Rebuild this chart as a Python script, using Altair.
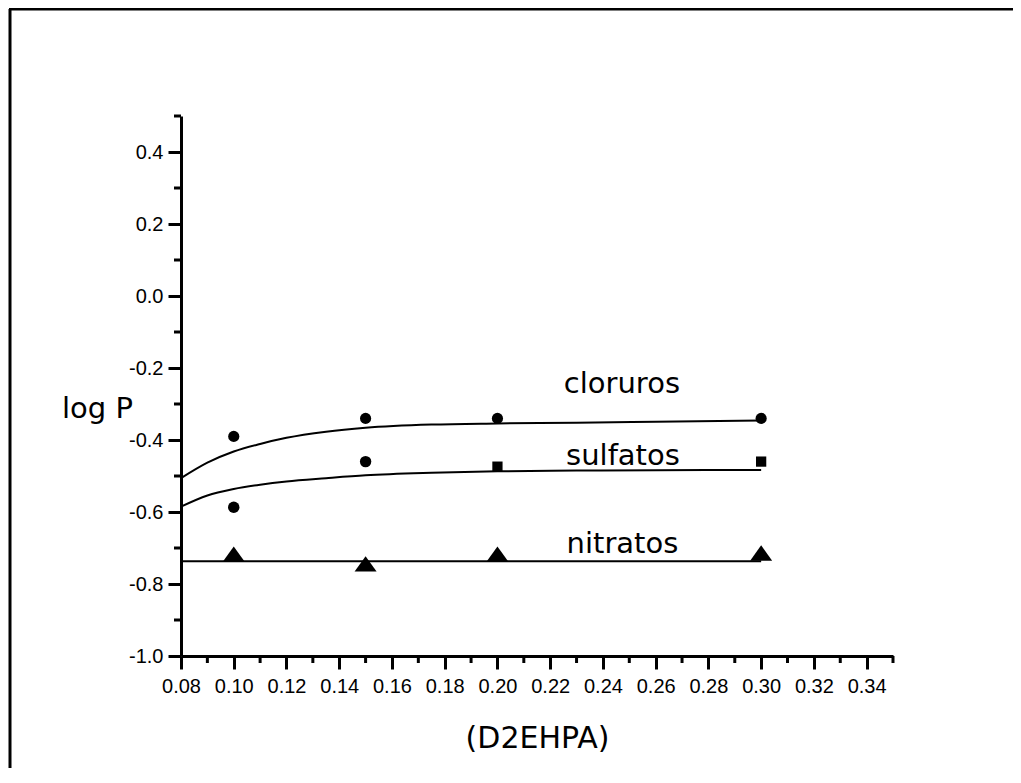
import altair as alt
import pandas as pd

# ---- data ----
# fitted curves
clor_curve_x = [0.08, 0.09, 0.10, 0.11, 0.12, 0.135, 0.15, 0.175, 0.20, 0.23, 0.26, 0.30]
clor_curve_y = [-0.506, -0.463, -0.432, -0.411, -0.394, -0.377, -0.366, -0.357, -0.354, -0.352, -0.349, -0.346]
sulf_curve_x = [0.08, 0.09, 0.10, 0.11, 0.12, 0.135, 0.15, 0.175, 0.20, 0.23, 0.26, 0.30]
sulf_curve_y = [-0.585, -0.554, -0.536, -0.524, -0.515, -0.506, -0.498, -0.491, -0.487, -0.485, -0.484, -0.483]
nitr_curve_x = [0.08, 0.30]
nitr_curve_y = [-0.737, -0.737]

# measured points
pt_x = [0.10, 0.15, 0.20, 0.30]
clor_y = [-0.39, -0.34, -0.34, -0.34]
sulf_y = [-0.587, -0.46, -0.474, -0.46]
nitr_y = [-0.717, -0.744, -0.717, -0.714]
sulf_shape = ["circle", "circle", "square", "square"]

# annotations
ann_text = ["cloruros", "sulfatos", "nitratos"]
ann_x = [0.2472, 0.2476, 0.2474]
ann_y = [-0.269, -0.469, -0.714]

x_major = [0.08, 0.10, 0.12, 0.14, 0.16, 0.18, 0.20, 0.22, 0.24, 0.26, 0.28, 0.30, 0.32, 0.34]
x_minor = [0.09, 0.11, 0.13, 0.15, 0.17, 0.19, 0.21, 0.23, 0.25, 0.27, 0.29, 0.31, 0.33, 0.35]
y_major = [-1.0, -0.8, -0.6, -0.4, -0.2, 0.0, 0.2, 0.4]
y_minor = [-0.9, -0.7, -0.5, -0.3, -0.1, 0.1, 0.3, 0.5]

W, H = 712, 540
TRI = "M0,-0.7L-1,0.7L1,0.7Z"

curves = pd.DataFrame(
    [{"s": "cloruros", "x": a, "y": b} for a, b in zip(clor_curve_x, clor_curve_y)]
    + [{"s": "sulfatos", "x": a, "y": b} for a, b in zip(sulf_curve_x, sulf_curve_y)]
    + [{"s": "nitratos", "x": a, "y": b} for a, b in zip(nitr_curve_x, nitr_curve_y)]
)
points = pd.DataFrame(
    [{"x": a, "y": b, "shape": "circle", "size": 125} for a, b in zip(pt_x, clor_y)]
    + [{"x": a, "y": b, "shape": sh, "size": 130 if sh == "circle" else 105} for a, b, sh in zip(pt_x, sulf_y, sulf_shape)]
    + [{"x": a, "y": b, "shape": TRI, "size": 484} for a, b in zip(pt_x, nitr_y)]
)
ann = pd.DataFrame({"t": ann_text, "x": ann_x, "y": ann_y})

xs = alt.Scale(domain=[0.08, 0.35], nice=False, zero=False)
ys = alt.Scale(domain=[-1.0, 0.5], nice=False, zero=False)

xaxis = alt.Axis(values=x_major, format=".2f", title="(D2EHPA)",
                 labelFont="Liberation Sans", labelFontSize=20, labelColor="black",
                 labelPadding=7, tickSize=13, tickWidth=3, tickColor="black",
                 domainColor="black", domainWidth=3, grid=False, labelFlush=False,
                 titleFont="DejaVu Sans", titleFontSize=30, titleFontWeight="normal",
                 titleColor="black", titleX=W / 2, titleY=91, titleAlign="center",
                 titleBaseline="alphabetic")
yaxis = alt.Axis(values=y_major, title="log P",
                 labelExpr="replace(format(datum.value, '.1f'), '\u2212', '-')",
                 labelFont="Liberation Sans", labelFontSize=20, labelColor="black",
                 labelPadding=5, tickSize=13, tickWidth=3, tickColor="black",
                 domainColor="black", domainWidth=3, grid=False, labelFlush=False,
                 titleFont="DejaVu Sans", titleFontSize=29, titleFontWeight="normal",
                 titleColor="black", titleAngle=0, titleX=-84, titleY=301,
                 titleAlign="center", titleBaseline="alphabetic")

lines = alt.Chart(curves).mark_line(color="black", strokeWidth=2, interpolate="monotone").encode(
    x=alt.X("x:Q", scale=xs, axis=xaxis),
    y=alt.Y("y:Q", scale=ys, axis=yaxis),
    detail="s:N",
)
pts = alt.Chart(points).mark_point(filled=True, color="black", opacity=1).encode(
    x=alt.X("x:Q", scale=xs),
    y=alt.Y("y:Q", scale=ys),
    shape=alt.Shape("shape:N", scale=None),
    size=alt.Size("size:Q", scale=None),
)
labels = alt.Chart(ann).mark_text(font="DejaVu Sans", fontSize=29, color="black",
                                  align="center", baseline="alphabetic").encode(
    x=alt.X("x:Q", scale=xs), y=alt.Y("y:Q", scale=ys), text="t:N")

xmin_df = pd.DataFrame({"v": x_minor})
ymin_df = pd.DataFrame({"v": y_minor})
xminor = alt.Chart(xmin_df).mark_rule(color="black", strokeWidth=3).encode(
    x=alt.X("v:Q", scale=xs), y=alt.value(H), y2=alt.value(H + 7))
yminor = alt.Chart(ymin_df).mark_rule(color="black", strokeWidth=3).encode(
    y=alt.Y("v:Q", scale=ys), x=alt.value(0), x2=alt.value(-7))

one = alt.Data(values=[{"a": 1}])
border_left = alt.Chart(one).mark_rule(color="black", strokeWidth=3).encode(
    x=alt.value(-171), x2=alt.value(-171), y=alt.value(-107), y2=alt.value(700))
border_top = alt.Chart(one).mark_rule(color="black", strokeWidth=3).encode(
    x=alt.value(-172), x2=alt.value(900), y=alt.value(-107), y2=alt.value(-107))

chart = alt.layer(lines, xminor, yminor, pts, labels, border_left, border_top).properties(
    width=W, height=H,
    autosize=alt.AutoSizeParams(type="none"),
    padding={"left": 173, "top": 108, "right": 120, "bottom": 112},
    background="white",
).configure_view(stroke=None)

chart.save("out.html", embed_options={"renderer": "svg", "actions": False})
